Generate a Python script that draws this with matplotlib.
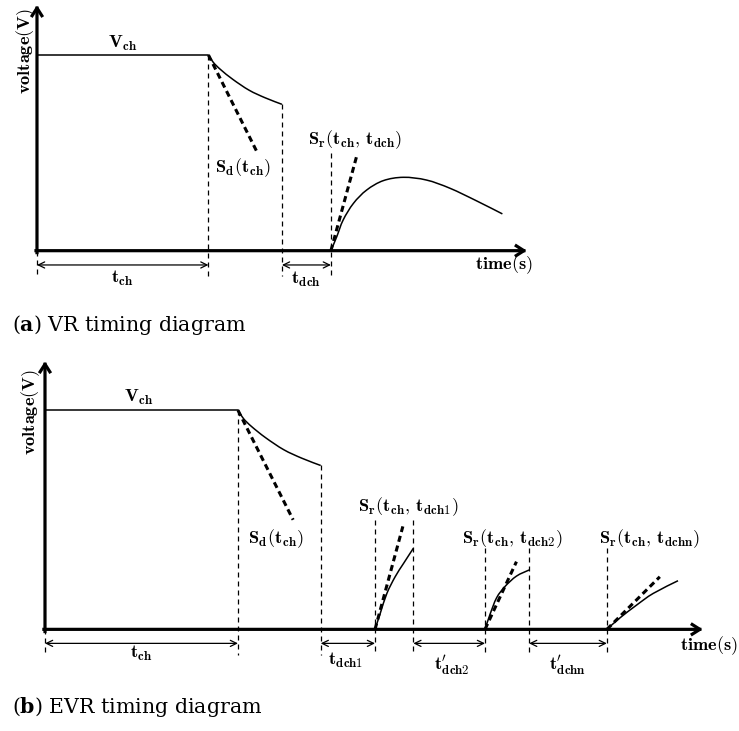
import matplotlib
matplotlib.use("Agg")
import matplotlib.pyplot as plt
from matplotlib.patches import PathPatch
from matplotlib.path import Path
import numpy as np

plt.rcParams["mathtext.fontset"] = "cm"

FIGSIZE = (7.39, 7.31)
DPI = 100

# charge level and charge duration (arbitrary units)
V_CH = 1.0
T_CH = 3.5

# discharge curve after charging stops (same in both diagrams)
DECAY_T = [3.5, 3.6, 3.75, 4.0, 4.33, 4.66, 5.0]
DECAY_V = [1.0, 0.962, 0.925, 0.875, 0.82, 0.781, 0.748]
SD_T = [3.5, 4.5]
SD_V = [1.0, 0.5]

# (a) VR: one read after t_dch
VR_RISE_T = [6.0, 6.12, 6.25, 6.46, 6.73, 7.07, 7.48, 7.95, 8.43, 8.97, 9.5]
VR_RISE_V = [0.0, 0.072, 0.157, 0.242, 0.31, 0.358, 0.375, 0.361, 0.319, 0.255, 0.188]
VR_SR_T = [6.0, 6.52]
VR_SR_V = [0.0, 0.478]
VR_GUIDE_T = [0.0, 3.5, 5.0, 6.0]
VR_GUIDE_TOP = [0.0, 1.0, 0.748, 0.5]
VR_SPANS = [(0.0, 3.5), (5.0, 6.0)]
VR_SPAN_LABELS = [r"$\mathbf{t}_\mathbf{ch}$", r"$\mathbf{t}_\mathbf{dch}$"]
VR_SR_LABELS = [r"$\mathbf{S}_\mathbf{r}\mathbf{(t}_\mathbf{ch}\mathbf{,\,t}_\mathbf{dch}\mathbf{)}$"]

# (b) EVR: repeated short reads
EVR_RISE_T = [
    [5.985, 6.08, 6.2, 6.35, 6.5, 6.68],
    [7.98, 8.07, 8.19, 8.34, 8.55, 8.78],
    [10.19, 10.43, 10.73, 11.03, 11.48],
]
EVR_RISE_V = [
    [0.0, 0.073, 0.164, 0.24, 0.3, 0.37],
    [0.0, 0.068, 0.144, 0.195, 0.243, 0.271],
    [0.0, 0.053, 0.111, 0.164, 0.222],
]
EVR_SR_T = [[5.985, 6.49], [7.98, 8.55], [10.19, 11.15]]
EVR_SR_V = [[0.0, 0.47], [0.0, 0.309], [0.0, 0.24]]
EVR_GUIDE_T = [0.0, 3.5, 5.0, 5.985, 6.68, 7.98, 8.78, 10.19]
EVR_GUIDE_TOP = [0.0, 1.0, 0.748, 0.5, 0.5, 0.37, 0.37, 0.37]
EVR_SPANS = [(0.0, 3.5), (5.0, 5.985), (6.68, 7.98), (8.78, 10.19)]
EVR_SPAN_LABELS = [
    r"$\mathbf{t}_\mathbf{ch}$",
    r"$\mathbf{t}_\mathbf{dch1}$",
    r"$\mathbf{t}^{\prime}_\mathbf{dch2}$",
    r"$\mathbf{t}^{\prime}_\mathbf{dchn}$",
]
EVR_SR_LABELS = [
    r"$\mathbf{S}_\mathbf{r}\mathbf{(t}_\mathbf{ch}\mathbf{,\,t}_\mathbf{dch1}\mathbf{)}$",
    r"$\mathbf{S}_\mathbf{r}\mathbf{(t}_\mathbf{ch}\mathbf{,\,t}_\mathbf{dch2}\mathbf{)}$",
    r"$\mathbf{S}_\mathbf{r}\mathbf{(t}_\mathbf{ch}\mathbf{,\,t}_\mathbf{dchn}\mathbf{)}$",
]

LABEL_SIZE = 13.2
CAPTION_SIZE = 14.8
AXIS_LW = 2.3
CURVE_LW = 1.1
GUIDE_LW = 0.9
TANGENT_LW = 2.2
TANGENT_DASH = (0, (2.0, 1.3))


def smooth_curve(ax, ts, vs, **kw):
    # Catmull-Rom through the points, drawn as cubic Bezier segments
    pts = np.column_stack([ts, vs])
    n = len(pts)
    verts = [pts[0]]
    codes = [Path.MOVETO]
    for i in range(n - 1):
        p0 = pts[max(i - 1, 0)]
        p1 = pts[i]
        p2 = pts[i + 1]
        p3 = pts[min(i + 2, n - 1)]
        verts += [p1 + (p2 - p0) / 6.0, p2 - (p3 - p1) / 6.0, p2]
        codes += [Path.CURVE4] * 3
    patch = PathPatch(Path(verts, codes), fill=False, edgecolor="black",
                      lw=CURVE_LW, capstyle="butt", **kw)
    ax.add_patch(patch)


def draw_axes_arrows(ax, t_end, v_end):
    style = dict(arrowstyle="->,head_length=0.55,head_width=0.35", lw=AXIS_LW,
                 color="black", shrinkA=0, shrinkB=0, capstyle="projecting")
    ax.annotate("", xy=(t_end, 0), xytext=(-0.02, 0), arrowprops=style)
    ax.annotate("", xy=(0, v_end), xytext=(0, -0.01), arrowprops=style)


def draw_panel(ax, layout, rise_t, rise_v, sr_t, sr_v, guide_t, guide_top,
               spans, span_labels, sr_labels):
    ax.set_xlim(*layout["xlim"])
    ax.set_ylim(*layout["ylim"])
    ax.axis("off")

    guide_bottom = layout["guide_bottom"]
    for t, top in zip(guide_t, guide_top):
        ax.plot([t, t], [top, guide_bottom], color="black", lw=GUIDE_LW,
                linestyle=(0, (4, 3.2)), zorder=1)

    # charge plateau and discharge
    ax.plot([0, T_CH], [V_CH, V_CH], color="black", lw=CURVE_LW)
    smooth_curve(ax, DECAY_T, DECAY_V, zorder=3)
    ax.plot(SD_T, SD_V, color="black", lw=TANGENT_LW, linestyle=TANGENT_DASH)

    for ts, vs in zip(rise_t, rise_v):
        smooth_curve(ax, ts, vs, zorder=3)
    for ts, vs in zip(sr_t, sr_v):
        ax.plot(ts, vs, color="black", lw=TANGENT_LW, linestyle=TANGENT_DASH, zorder=3)

    draw_axes_arrows(ax, *layout["axis_end"])

    span_v = layout["span_v"]
    for (t0, t1), label, pos in zip(spans, span_labels, layout["span_label_pos"]):
        ax.annotate("", xy=(t1, span_v), xytext=(t0, span_v),
                    arrowprops=dict(arrowstyle="<->,head_length=0.45,head_width=0.22",
                                    lw=0.9, color="black", shrinkA=0, shrinkB=0))
        ax.text(pos[0], pos[1], label, fontsize=LABEL_SIZE, ha="center", va="center")

    for label, pos in zip(sr_labels, layout["sr_label_pos"]):
        ax.text(pos[0], pos[1], label, fontsize=LABEL_SIZE, ha="center", va="center")

    ax.text(*layout["vch_pos"], r"$\mathbf{V}_\mathbf{ch}$", fontsize=LABEL_SIZE,
            ha="center", va="center")
    ax.text(*layout["sd_pos"], r"$\mathbf{S}_\mathbf{d}\mathbf{(t}_\mathbf{ch}\mathbf{)}$",
            fontsize=LABEL_SIZE, ha="center", va="center")
    ax.text(*layout["volt_pos"], r"$\mathbf{voltage(V)}$", fontsize=LABEL_SIZE,
            rotation=90, ha="center", va="center")
    ax.text(*layout["time_pos"], r"$\mathbf{time(s)}$", fontsize=LABEL_SIZE,
            ha="right", va="center")


VR_LAYOUT = {
    "xlim": (-0.755, 14.33),
    "ylim": (-0.252, 1.281),
    "axis_end": (10.0, 1.255),
    "guide_bottom": -0.129,
    "span_v": -0.073,
    "span_label_pos": [(1.75, -0.14), (5.49, -0.145)],
    "sr_label_pos": [(6.49, 0.566)],
    "vch_pos": (1.745, 1.061),
    "sd_pos": (4.21, 0.423),
    "volt_pos": (-0.24, 1.02),
    "time_pos": (10.12, -0.073),
}

EVR_LAYOUT = {
    "xlim": (-0.816, 12.586),
    "ylim": (-0.464, 1.298),
    "axis_end": (11.93, 1.224),
    "guide_bottom": -0.119,
    "span_v": -0.064,
    "span_label_pos": [(1.74, -0.108), (5.46, -0.14), (7.38, -0.163), (9.47, -0.163)],
    "sr_label_pos": [(6.58, 0.562), (8.47, 0.416), (10.97, 0.416)],
    "vch_pos": (1.70, 1.06),
    "sd_pos": (4.19, 0.416),
    "volt_pos": (-0.26, 0.99),
    "time_pos": (12.56, -0.076),
}


def main():
    fig = plt.figure(figsize=FIGSIZE, dpi=DPI)
    ax_a = fig.add_axes([0.0, 1 - 300 / 731, 1.0, 300 / 731])
    ax_b = fig.add_axes([0.0, 0.0, 1.0, (731 - 345) / 731])

    draw_panel(ax_a, VR_LAYOUT, [VR_RISE_T], [VR_RISE_V], [VR_SR_T], [VR_SR_V],
               VR_GUIDE_T, VR_GUIDE_TOP, VR_SPANS, VR_SPAN_LABELS, VR_SR_LABELS)
    draw_panel(ax_b, EVR_LAYOUT, EVR_RISE_T, EVR_RISE_V, EVR_SR_T, EVR_SR_V,
               EVR_GUIDE_T, EVR_GUIDE_TOP, EVR_SPANS, EVR_SPAN_LABELS, EVR_SR_LABELS)

    cap = dict(fontsize=CAPTION_SIZE, family="DejaVu Serif", math_fontfamily="dejavuserif",
               ha="left", va="center")
    fig.text(12 / 739, 1 - 325 / 731, r"($\mathbf{a}$) VR timing diagram", **cap)
    fig.text(12 / 739, 1 - 707 / 731, r"($\mathbf{b}$) EVR timing diagram", **cap)

    fig.savefig("out.png", dpi=DPI)
    plt.close(fig)


if __name__ == "__main__":
    main()
